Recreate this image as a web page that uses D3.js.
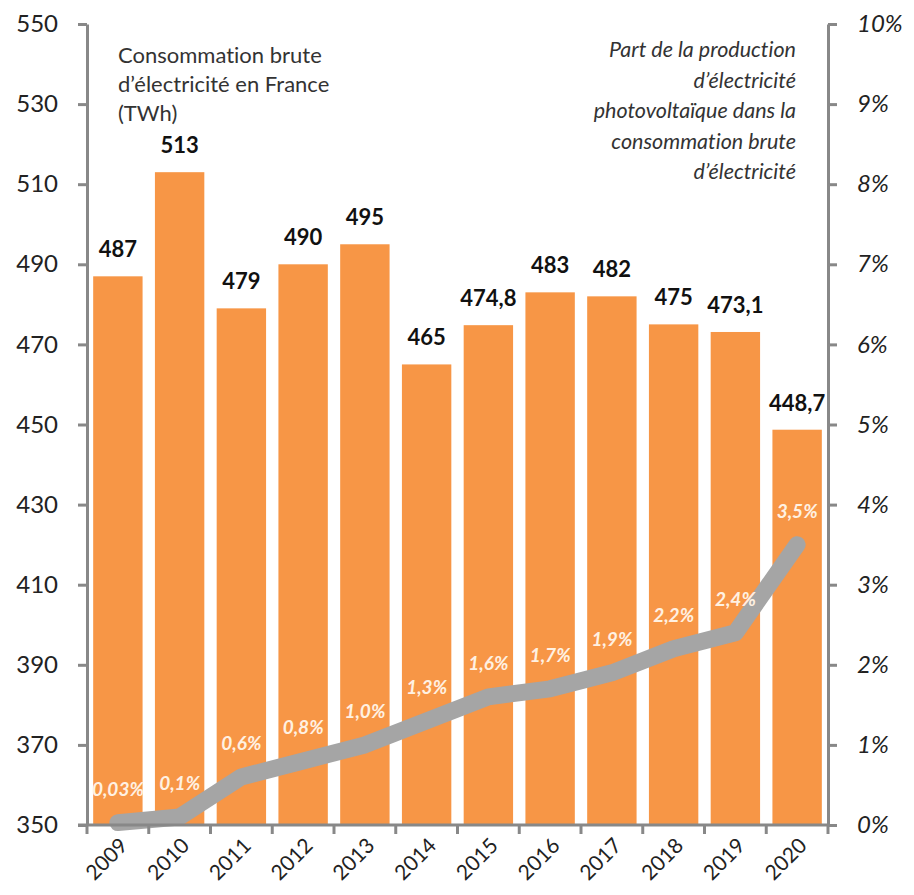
<!DOCTYPE html>
<html><head><meta charset="utf-8">
<script src="https://cdn.jsdelivr.net/npm/d3@7"></script>
<style>
html,body{margin:0;padding:0;background:#fff;}
svg{display:block;font-family:Lato,"Open Sans",sans-serif;font-variant-ligatures:none;}
</style></head>
<body>
<svg id="c" width="914" height="895"></svg>
<script>
const years = ["2009","2010","2011","2012","2013","2014","2015","2016","2017","2018","2019","2020"];
const consumption = [487,513,479,490,495,465,474.8,483,482,475,473.1,448.7];
const pvShare = [0.03,0.1,0.6,0.8,1.0,1.3,1.6,1.7,1.9,2.2,2.4,3.5];
const leftTicks = [350,370,390,410,430,450,470,490,510,530,550];
const rightTicks = [0,1,2,3,4,5,6,7,8,9,10];
const leftTitle = ["Consommation brute","d\u2019électricité en France","(TWh)"];
const rightTitle = ["Part de la production","d\u2019électricité","photovoltaïque dans la","consommation brute","d\u2019électricité"];

const svg = d3.select("#c");
const X0 = 87, X1 = 828, Y0 = 825, Y1 = 24;
const x = d3.scaleBand().domain(years).range([X0, X1]).paddingInner(0.2).paddingOuter(0.1);
const yL = d3.scaleLinear().domain([350,550]).range([Y0, Y1]);
const yR = d3.scaleLinear().domain([0,10]).range([Y0, Y1]);
const axisCol = "#888888";
const fmtNum = v => Number.isInteger(v) ? String(v) : v.toFixed(1).replace(".", ",");
const fmtPct = v => (v < 0.1 ? v.toFixed(2) : v.toFixed(1)).replace(".", ",") + "%";

// bars
svg.append("g").selectAll("rect").data(consumption).join("rect")
  .attr("x", (d,i) => x(years[i]))
  .attr("width", x.bandwidth())
  .attr("y", d => yL(d))
  .attr("height", d => Y0 - yL(d))
  .attr("fill", "#F79646");

// bar labels
svg.append("g").selectAll("text").data(consumption).join("text")
  .attr("x", (d,i) => x(years[i]) + x.bandwidth()/2)
  .attr("y", d => yL(d) - 19)
  .attr("text-anchor", "middle")
  .attr("font-weight", "bold")
  .attr("font-size", 22)
  .attr("fill", "#111")
  .text(d => fmtNum(d));

// line
const line = d3.line()
  .x((d,i) => x(years[i]) + x.bandwidth()/2)
  .y(d => yR(d));
svg.append("path").datum(pvShare)
  .attr("d", line)
  .attr("fill", "none")
  .attr("stroke", "#A5A5A5")
  .attr("stroke-width", 17)
  .attr("stroke-linejoin", "round")
  .attr("stroke-linecap", "round");

// line labels
svg.append("g").selectAll("text").data(pvShare).join("text")
  .attr("x", (d,i) => x(years[i]) + x.bandwidth()/2)
  .attr("y", d => yR(d) - 27)
  .attr("text-anchor", "middle")
  .attr("font-style", "italic")
  .attr("font-weight", "bold")
  .attr("font-size", 19)
  .attr("fill", "#FFF1E2")
  .text(d => fmtPct(d));

// left axis
const gL = svg.append("g").attr("transform", `translate(${X0},0)`)
  .call(d3.axisLeft(yL).tickValues(leftTicks).tickSize(9).tickPadding(20).tickSizeOuter(0));
gL.select(".domain").attr("stroke", axisCol).attr("stroke-width", 3);
gL.selectAll(".tick line").attr("stroke", axisCol).attr("stroke-width", 3);
gL.selectAll(".tick text").attr("font-size", 24).attr("fill", "#222").attr("font-family", "Lato");

// right axis
const gR = svg.append("g").attr("transform", `translate(${X1},0)`)
  .call(d3.axisRight(yR).tickValues(rightTicks).tickFormat(d => d + "%").tickSize(9).tickPadding(20).tickSizeOuter(0));
gR.select(".domain").attr("stroke", axisCol).attr("stroke-width", 3);
gR.selectAll(".tick line").attr("stroke", axisCol).attr("stroke-width", 3);
gR.selectAll(".tick text").attr("font-size", 24).attr("fill", "#222").attr("font-style", "italic").attr("font-family", "Lato");

// bottom axis
const gB = svg.append("g").attr("transform", `translate(0,${Y0})`);
gB.append("line").attr("x1", X0 - 9).attr("x2", X1).attr("y1", 0).attr("y2", 0)
  .attr("stroke", axisCol).attr("stroke-width", 3);
const edges = years.map(y => x(y) - x.step()*x.paddingInner()/2).concat([X1]);
gB.selectAll("line.t").data(edges).join("line").attr("class","t")
  .attr("x1", d => d).attr("x2", d => d).attr("y1", 0).attr("y2", 9)
  .attr("stroke", axisCol).attr("stroke-width", 3);
gB.selectAll("text").data(years).join("text")
  .attr("transform", d => `translate(${x(d) + x.bandwidth()/2 + 11},${22}) rotate(-45)`)
  .attr("text-anchor", "end")
  .attr("font-size", 21)
  .attr("fill", "#222")
  .text(d => d);

// titles
svg.append("g").selectAll("text").data(leftTitle).join("text")
  .attr("x", 118).attr("y", (d,i) => 63 + i*29)
  .attr("font-size", 22).attr("fill", "#333")
  .text(d => d);
svg.append("g").selectAll("text").data(rightTitle).join("text")
  .attr("x", 796).attr("y", (d,i) => 57 + i*30.5)
  .attr("text-anchor", "end")
  .attr("font-size", 21.5).attr("font-style", "italic").attr("fill", "#333")
  .text(d => d);
</script>
</body></html>
